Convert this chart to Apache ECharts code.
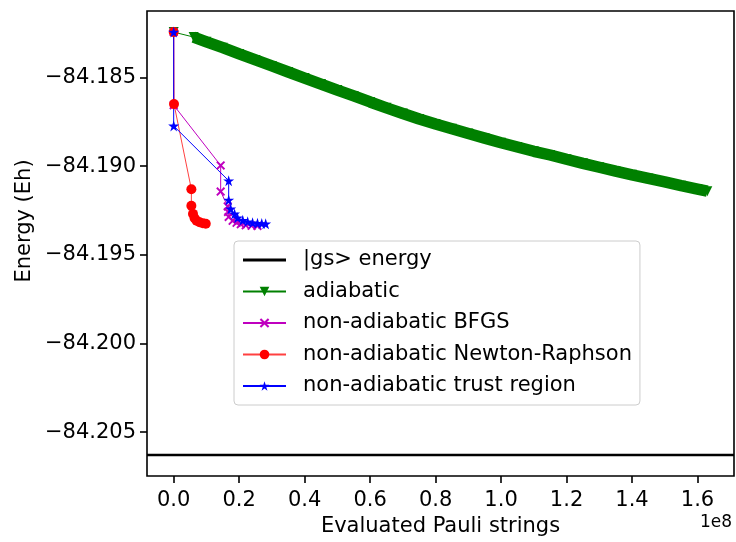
<!DOCTYPE html>
<html>
<head>
<meta charset="utf-8">
<script src="https://cdn.jsdelivr.net/npm/echarts@6/dist/echarts.min.js"></script>
<style>
  html, body { margin: 0; padding: 0; background: #fff; }
  #main { width: 736px; height: 542px; }
</style>
</head>
<body>
<div id="main"></div>
<script>
// ground state energy (horizontal line)
var gsEnergy = -84.20628;

// adiabatic
var adiabaticX = [0, 6100000, 10000000, 15000000, 20000000, 25000000, 30000000, 35000000,
  40000000, 45000000, 50000000, 55000000, 60000000, 65000000, 70000000, 75000000, 80000000,
  85000000, 90000000, 95000000, 100000000, 105000000, 110000000, 115000000, 120000000,
  125000000, 130000000, 135000000, 140000000, 145000000, 150000000, 155000000, 160000000, 163000000];
var adiabaticY = [-84.18244, -84.18272, -84.18299, -84.18332, -84.18367, -84.18401, -84.18435, -84.18469,
  -84.18503, -84.18537, -84.18571, -84.18604, -84.18638, -84.18671, -84.18703, -84.18734, -84.18762,
  -84.18789, -84.18816, -84.18842, -84.18868, -84.18892, -84.18916, -84.18937, -84.18961,
  -84.18984, -84.19006, -84.19028, -84.19049, -84.19069, -84.19089, -84.19110, -84.19129, -84.19141];

// non-adiabatic BFGS
var bfgsX = [0, 0, 14350000, 14350000, 16500000, 16600000, 16800000, 18000000, 19200000, 20500000, 22000000, 23800000, 25600000];
var bfgsY = [-84.18244, -84.18656, -84.18996, -84.19143, -84.19227, -84.19258, -84.19286, -84.19308, -84.19319, -84.19327, -84.19333, -84.19336, -84.19337];

// non-adiabatic Newton-Raphson
var newtonX = [0, 100000, 5400000, 5400000, 5900000, 6400000, 7000000, 7900000, 8900000, 9800000];
var newtonY = [-84.18244, -84.18650, -84.19130, -84.19223, -84.19269, -84.19294, -84.19308, -84.19316, -84.19322, -84.19325];

// non-adiabatic trust region
var trustX = [0, 0, 16800000, 16800000, 17400000, 18600000, 19500000, 21100000, 22600000, 24100000, 25600000, 26900000, 28100000];
var trustY = [-84.18244, -84.18773, -84.19082, -84.19191, -84.19241, -84.19269, -84.19291, -84.19305, -84.19313, -84.19319, -84.19322, -84.19323, -84.19325];

// ticks
var xTicks = [0, 20000000, 40000000, 60000000, 80000000, 100000000, 120000000, 140000000, 160000000];
var yTicks = [-84.205, -84.200, -84.195, -84.190, -84.185];

// axis limits (matplotlib style 5% margins)
var xMin = -8150000, xMax = 171150000;
var yMin = -84.20747, yMax = -84.18125;

function pairs(xs, ys) {
  return xs.map(function (x, i) { return [x, ys[i]]; });
}

var FONT = 'DejaVu Sans';
var starPath = 'path://M50,0 L61.2,34.55 L97.55,34.55 L68.15,55.9 L79.4,90.45 L50,69.1 L20.6,90.45 L31.85,55.9 L2.45,34.55 L38.8,34.55 Z';
var crossPath = 'path://M1.5,0 L5,3.5 L8.5,0 L10,1.5 L6.5,5 L10,8.5 L8.5,10 L5,6.5 L1.5,10 L0,8.5 L3.5,5 L0,1.5 Z';

var myChart = echarts.init(document.getElementById('main'));
var option = {
  animation: false,
  textStyle: { fontFamily: FONT },
  grid: {
    left: 147, right: 2, top: 11, bottom: 61,
    show: true, borderColor: '#000', borderWidth: 1.6, backgroundColor: 'transparent'
  },
  xAxis: {
    type: 'value',
    min: xMin,
    max: xMax,
    name: 'Evaluated Pauli strings',
    nameLocation: 'middle',
    nameGap: 40,
    nameTextStyle: { fontSize: 21, color: '#000', fontFamily: FONT },
    axisLine: { show: false, onZero: false },
    splitLine: { show: false },
    axisTick: { show: true, inside: false, length: 7, customValues: xTicks, lineStyle: { color: '#000', width: 1.6 } },
    axisLabel: {
      customValues: xTicks, margin: 14, fontSize: 21, color: '#000', fontFamily: FONT,
      formatter: function (v) { return (v / 1e8).toFixed(1); }
    }
  },
  yAxis: {
    type: 'value',
    min: yMin,
    max: yMax,
    axisLine: { show: false, onZero: false },
    splitLine: { show: false },
    axisTick: { show: true, inside: false, length: 7, customValues: yTicks, lineStyle: { color: '#000', width: 1.6 } },
    axisLabel: {
      customValues: yTicks, margin: 11, fontSize: 21, color: '#000', fontFamily: FONT,
      formatter: function (v) { return (v < 0 ? '\u2212' : '') + Math.abs(v).toFixed(3); }
    }
  },
  legend: {
    orient: 'vertical',
    left: 234,
    top: 241,
    padding: [8, 8, 8, 8],
    itemGap: 9.5,
    itemWidth: 43,
    itemHeight: 12,
    backgroundColor: '#fff',
    borderColor: '#cccccc',
    borderWidth: 1,
    borderRadius: 4,
    textStyle: { fontSize: 21, color: '#000', fontFamily: FONT, lineHeight: 22, padding: [0, 0, 0, 12] },
    data: [
      { name: '|gs> energy', icon: 'path://M0,0 H40 V2.6 H0 Z', itemStyle: { color: '#000' } },
      'adiabatic', 'non-adiabatic BFGS', 'non-adiabatic Newton-Raphson', 'non-adiabatic trust region'
    ]
  },
  series: [
    {
      name: '|gs> energy',
      type: 'line',
      data: [[xMin, gsEnergy], [xMax, gsEnergy]],
      symbol: 'none',
      silent: true,
      itemStyle: { color: '#000' },
      lineStyle: { color: '#000', width: 2.5 }
    },
    {
      name: 'adiabatic',
      type: 'line',
      data: pairs(adiabaticX, adiabaticY),
      symbol: 'triangle',
      symbolRotate: 180,
      symbolSize: 10,
      itemStyle: { color: '#008000' },
      lineStyle: { color: '#008000', width: 1 }
    },
    {
      name: 'adiabatic band',
      type: 'line',
      data: pairs(adiabaticX.slice(1), adiabaticY.slice(1)),
      symbol: 'none',
      silent: true,
      itemStyle: { color: '#008000' },
      lineStyle: { color: '#008000', width: 11.5 }
    },
    {
      name: 'non-adiabatic BFGS',
      type: 'line',
      data: pairs(bfgsX, bfgsY),
      symbol: crossPath,
      symbolSize: 9,
      itemStyle: { color: '#bf00bf' },
      lineStyle: { color: '#bf00bf', width: 1 }
    },
    {
      name: 'non-adiabatic Newton-Raphson',
      type: 'line',
      data: pairs(newtonX, newtonY),
      symbol: 'circle',
      symbolSize: 10,
      itemStyle: { color: '#ff0000' },
      lineStyle: { color: '#ff0000', width: 1, opacity: 0.75 }
    },
    {
      name: 'non-adiabatic trust region',
      type: 'line',
      data: pairs(trustX, trustY),
      symbol: starPath,
      symbolSize: 11,
      itemStyle: { color: '#0000ff' },
      lineStyle: { color: '#0000ff', width: 1 }
    }
  ],
  graphic: [
    {
      type: 'text',
      right: 4,
      top: 514,
      style: { text: '1e8', fontSize: 17, fill: '#000', fontFamily: FONT }
    },
    {
      type: 'text',
      x: 25,
      y: 221,
      rotation: Math.PI / 2,
      style: { text: 'Energy (Eh)', fontSize: 21, fill: '#000', fontFamily: FONT, align: 'center', verticalAlign: 'middle' }
    }
  ]
};
myChart.setOption(option);
window.addEventListener('resize', function () {
  myChart.resize();
});
</script>
</body>
</html>
